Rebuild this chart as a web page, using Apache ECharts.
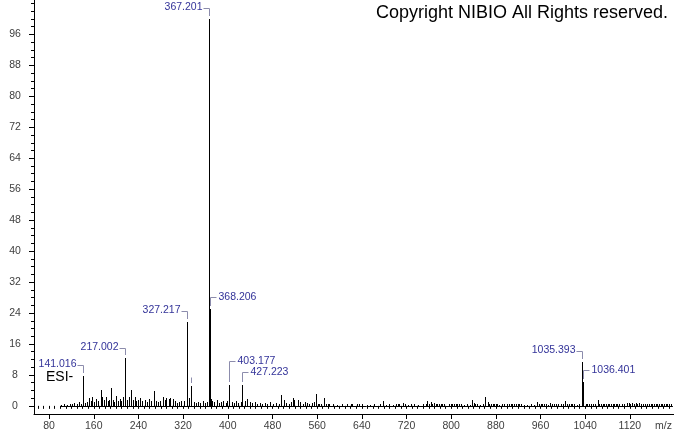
<!DOCTYPE html>
<html>
<head>
<meta charset="utf-8">
<script src="https://cdn.jsdelivr.net/npm/echarts@6/dist/echarts.min.js"></script>
<style>
  html, body { margin: 0; padding: 0; background: #fff; }
  #chart { width: 674px; height: 434px; }
</style>
</head>
<body>
<div id="chart"></div>
<script>
  // labelled / main peaks (m/z, relative intensity %)
  const peakMz = [141.016, 217.002, 327.217, 335.3, 367.201, 368.206, 403.177, 427.223, 1035.393, 1036.401];
  const peakInt = [7.7, 12.4, 21.7, 5.2, 100, 25.0, 5.4, 5.4, 11.4, 6.2];
  const peakLabel = ['141.016', '217.002', '327.217', '', '367.201', '368.206', '403.177', '427.223', '1035.393', '1036.401'];

  // small peaks along the baseline
  const noiseMz = [103, 108, 113, 118, 122, 126, 130, 134, 138, 145, 149, 152, 156, 158, 162, 165, 169, 173, 176, 179,
    183, 186, 189, 192, 195, 198, 201, 204, 207, 210, 213, 220, 224, 228, 231, 234, 237, 240, 243, 247,
    252, 256, 259, 263, 268, 272, 276, 280, 284, 288, 291, 295, 298, 302, 306, 310, 314, 318, 322, 328.2,
    331, 340, 344, 348, 352, 356, 360, 363, 370, 373, 377, 381, 385, 389, 393, 397, 400, 408, 412, 416,
    420, 424, 431, 435, 440, 445, 449, 454, 458, 463, 467, 472, 477, 482, 487, 492, 497, 502, 506, 510,
    514, 517, 520, 526, 530, 535, 540, 542, 547, 552, 556, 559, 562, 565, 568, 574, 577, 580, 583, 590,
    597, 605, 614, 622, 624, 633, 636, 642, 650, 656, 663, 674, 678, 684, 690, 696, 702, 705, 708, 714,
    719, 724, 729, 735, 742, 750, 755, 758, 762, 764, 767, 770, 773, 776, 779, 782, 785, 788, 797, 800,
    803, 806, 809, 812, 815, 818, 824, 829, 834, 838, 841, 844, 847, 852, 857, 862, 866, 869, 872, 875,
    878, 881, 883, 887, 892, 896, 900, 904, 908, 910, 914, 917, 920, 923, 926, 932, 937, 943, 950, 955,
    958, 961, 964, 967, 970, 974, 978, 981, 985, 989, 993, 997, 1001, 1005, 1008, 1012, 1015, 1018, 1021, 1026,
    1030, 1042, 1045, 1048, 1051, 1055, 1058, 1064, 1066, 1069, 1072, 1075, 1078, 1081, 1084, 1087, 1090, 1093, 1096, 1098,
    1102, 1106, 1110, 1116, 1119, 1122, 1125, 1128, 1131, 1134, 1137, 1140, 1144, 1148, 1152, 1155, 1158, 1161, 1164, 1167,
    1170, 1173, 1176, 1179, 1182, 1185, 1188, 1191, 1194];
  const noiseInt = [0.3, 0.4, 0.3, 0.6, 0.4, 0.7, 0.5, 0.9, 0.6, 0.8, 1.0, 2.0, 1.2, 2.2, 1.0, 1.8, 1.2, 4.1, 2.2, 1.4,
    2.2, 1.2, 1.6, 4.6, 1.4, 1.0, 2.5, 1.3, 1.8, 1.2, 2.2, 1.5, 2.3, 4.1, 1.5, 2.3, 1.2, 1.6, 2.0, 1.2,
    1.4, 1.0, 1.8, 1.2, 3.9, 1.2, 1.0, 1.3, 2.3, 1.6, 2.0, 1.8, 2.0, 1.9, 1.2, 0.8, 1.0, 1.2, 1.3, 4.5,
    2.0, 1.0, 0.8, 1.0, 0.7, 1.3, 0.8, 1.1, 1.8, 1.2, 1.0, 1.4, 0.8, 1.0, 1.2, 0.8, 1.3, 1.0, 0.7, 1.3,
    0.8, 1.0, 1.3, 1.7, 1.1, 0.7, 0.9, 0.6, 0.8, 0.5, 0.7, 0.6, 0.9, 0.5, 0.7, 0.6, 2.8, 1.6, 0.8, 0.6,
    1.0, 2.0, 1.4, 1.5, 0.9, 0.5, 1.0, 0.8, 0.5, 0.8, 1.1, 3.0, 0.6, 0.6, 0.5, 2.0, 0.6, 0.6, 0.6, 0.4,
    0.3, 0.4, 0.5, 0.6, 0.6, 0.6, 0.6, 0.5, 0.3, 0.3, 0.5, 0.6, 1.3, 0.3, 0.5, 0.3, 0.6, 0.5, 0.6, 0.8,
    0.5, 0.3, 0.5, 0.5, 0.3, 0.5, 0.6, 1.3, 0.6, 0.9, 0.6, 0.7, 0.5, 0.6, 0.6, 0.5, 0.6, 0.5, 0.6, 0.5,
    0.6, 0.6, 0.5, 0.6, 0.5, 0.6, 0.3, 0.5, 0.3, 1.5, 0.8, 0.4, 0.6, 0.3, 0.4, 2.2, 0.9, 0.5, 0.6, 0.5,
    0.6, 0.5, 0.6, 0.3, 0.5, 0.5, 0.4, 0.5, 0.5, 0.6, 0.6, 0.5, 0.6, 0.5, 0.6, 0.3, 0.3, 0.5, 0.3, 1.1,
    0.6, 0.6, 0.5, 0.6, 0.5, 0.3, 0.8, 0.5, 0.5, 0.4, 0.5, 0.5, 0.4, 1.2, 0.5, 0.5, 0.5, 0.5, 0.5, 0.3,
    0.4, 0.5, 0.5, 0.5, 0.5, 0.4, 0.5, 1.6, 0.5, 0.6, 0.6, 0.5, 0.6, 0.6, 0.5, 0.6, 0.6, 0.5, 0.6, 0.5,
    0.5, 0.5, 0.5, 0.7, 0.7, 0.6, 0.7, 0.6, 0.7, 0.6, 0.7, 0.5, 0.4, 0.5, 0.4, 0.5, 0.6, 0.6, 0.6, 0.5,
    0.6, 0.6, 0.5, 0.6, 0.6, 0.5, 0.5, 0.5, 0.5];

  const baselineRange = [100, 1197];

  // axis ticks
  const xLabels = [80, 160, 240, 320, 400, 480, 560, 640, 720, 800, 880, 960, 1040, 1120];
  const xMinorTicks = [];
  for (let v = 60; v <= 1190; v += 10) xMinorTicks.push(v);
  const yLabels = [0, 8, 16, 24, 32, 40, 48, 56, 64, 72, 80, 88, 96];
  const yMinorTicks = [];
  for (let v = 0; v <= 104; v += 2) yMinorTicks.push(v);

  // label layout (left/right of the stick, lift above the top in px)
  const labelSide = ['l', 'l', 'l', 'l', 'l', 'r', 'r', 'r', 'l', 'r'];
  const labelLift = [12, 11, 12, 10, 12, 12, 24, 13, 12, 12];

  const FONT = "'Liberation Sans', Arial, sans-serif";

  const sticks = noiseMz.map((m, i) => [m, noiseInt[i]])
    .concat(peakMz.map((m, i) => [m, peakInt[i]]));
  const labels = peakMz.map((m, i) => [m, peakInt[i], i]);

  const chart = echarts.init(document.getElementById('chart'));
  const option = {
    animation: false,
    grid: {left: 34, right: 0, top: 0, bottom: 20},
    xAxis: [
      {
        type: 'value', min: 53, max: 1199,
        axisLine: {onZero: false, lineStyle: {color: '#000', width: 1}},
        axisTick: {customValues: xLabels, length: 5, lineStyle: {color: '#000'}},
        axisLabel: {customValues: xLabels, formatter: v => String(v), color: '#404040', fontSize: 10.5, fontFamily: FONT, margin: 7},
        splitLine: {show: false}
      },
      {
        type: 'value', min: 53, max: 1199, position: 'bottom',
        axisLine: {show: false},
        axisTick: {customValues: xMinorTicks, length: 3, lineStyle: {color: '#000'}},
        axisLabel: {show: false},
        splitLine: {show: false}
      }
    ],
    yAxis: [
      {
        type: 'value', min: -2.1, max: 104.9,
        axisLine: {show: true, onZero: false, lineStyle: {color: '#000', width: 1}},
        axisTick: {show: true, customValues: yLabels, length: 5, lineStyle: {color: '#000'}},
        axisLabel: {customValues: yLabels, formatter: v => String(v), color: '#404040', fontSize: 10.5, fontFamily: FONT, align: 'center', margin: 19},
        splitLine: {show: false}
      },
      {
        type: 'value', min: -2.1, max: 104.9, position: 'left',
        axisLine: {show: false},
        axisTick: {show: true, customValues: yMinorTicks, length: 3, lineStyle: {color: '#000'}},
        axisLabel: {show: false},
        splitLine: {show: false}
      }
    ],
    graphic: [
      {type: 'text', right: 6, top: 4, style: {text: 'Copyright NIBIO All Rights reserved.', fill: '#000', font: '18px ' + FONT}},
      {type: 'text', left: 46, top: 370, style: {text: 'ESI-', fill: '#000', font: '14px ' + FONT}},
      {type: 'text', left: 655, top: 421, style: {text: 'm/z', fill: '#404040', font: '10.5px ' + FONT}}
    ],
    series: [
      {
        // baseline of the spectrum
        type: 'custom',
        silent: true,
        data: [baselineRange],
        renderItem(params, api) {
          const a = api.coord([api.value(0), 0]);
          const b = api.coord([api.value(1), 0]);
          const y = Math.round(a[1]) + 0.5;
          return {type: 'line', shape: {x1: a[0], y1: y, x2: b[0], y2: y}, style: {stroke: '#000', lineWidth: 1}};
        }
      },
      {
        // sticks
        type: 'custom',
        silent: true,
        data: sticks,
        renderItem(params, api) {
          const top = api.coord([api.value(0), api.value(1)]);
          const base = api.coord([api.value(0), 0]);
          const x = Math.floor(top[0]) + 0.5;
          return {
            type: 'line',
            shape: {x1: x, y1: Math.round(base[1]) + 0.5, x2: x, y2: Math.round(top[1])},
            style: {stroke: '#000', lineWidth: 1}
          };
        }
      },
      {
        // peak labels with bracket leaders
        type: 'custom',
        silent: true,
        clip: false,
        z: 5,
        data: labels,
        renderItem(params, api) {
          const i = api.value(2);
          const p = api.coord([api.value(0), api.value(1)]);
          const x = Math.floor(p[0]) + 0.5;
          const top = Math.round(p[1]);
          const ty = Math.round(top - labelLift[i]) + 0.5;
          const text = peakLabel[i];
          const lineStyle = {stroke: '#8c8cac', lineWidth: 1, fill: null};
          const children = [];
          if (labelSide[i] === 'l') {
            const hy = ty + 1;
            children.push({
              type: 'polyline',
              shape: {points: text ? [[x - 6, hy], [x, hy], [x, top - 3]] : [[x, hy], [x, top - 3]]},
              style: lineStyle
            });
            if (text) {
              children.push({
                type: 'text',
                style: {text: text, x: x - 7, y: ty, align: 'right', verticalAlign: 'middle', fill: '#333399', font: '10.5px ' + FONT}
              });
            }
          } else {
            children.push({
              type: 'polyline',
              shape: {points: [[x, top - 3], [x, ty], [x + 6, ty]]},
              style: lineStyle
            });
            children.push({
              type: 'text',
              style: {text: text, x: x + 8, y: ty, align: 'left', verticalAlign: 'middle', fill: '#333399', font: '10.5px ' + FONT}
            });
          }
          return {type: 'group', children: children};
        }
      }
    ]
  };
  chart.setOption(option);
</script>
</body>
</html>
